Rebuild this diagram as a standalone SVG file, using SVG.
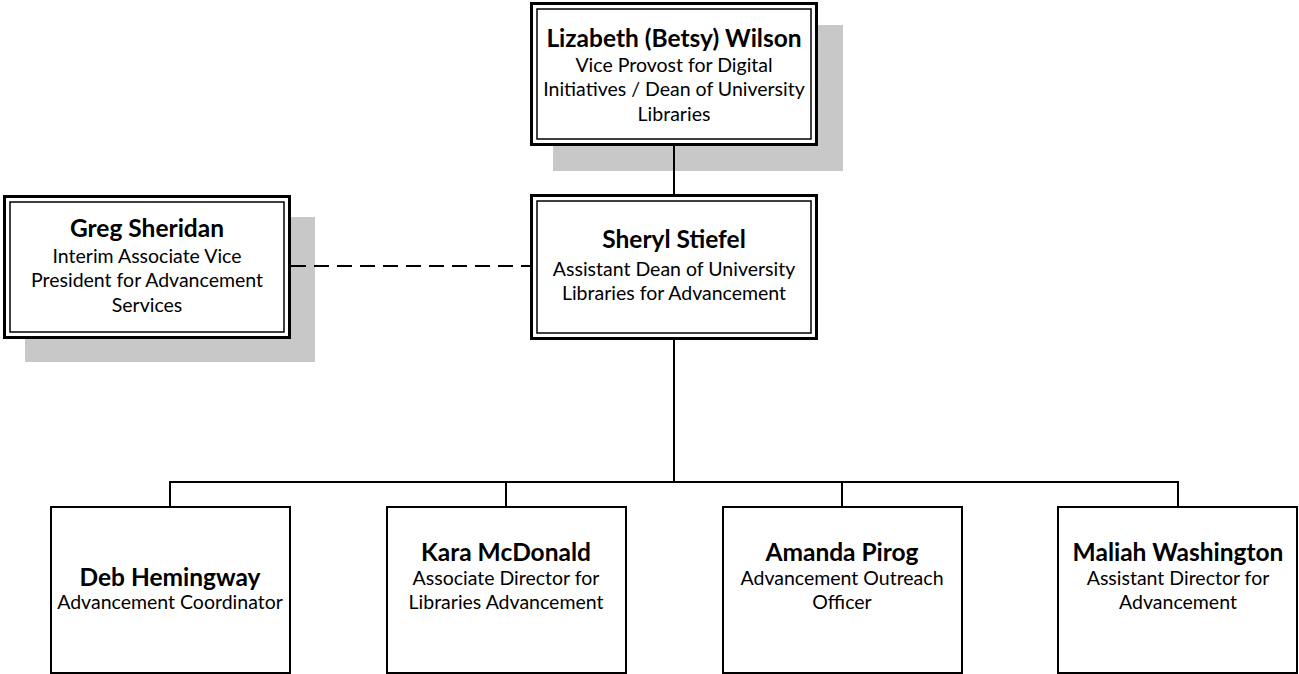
<svg xmlns="http://www.w3.org/2000/svg" width="1299" height="674" viewBox="0 0 1299 674">
<style>
.shadow{fill:#c8c8c8}
.outer{fill:#fff;stroke:#000;stroke-width:3}
.inner{fill:none;stroke:#000;stroke-width:1.5}
.box{fill:#fff;stroke:#000;stroke-width:2}
.name{font-family:Lato,"Liberation Sans",sans-serif;font-weight:bold;font-size:24.5px;text-anchor:middle;fill:#000}
.role{font-family:Lato,"Liberation Sans",sans-serif;font-size:19.5px;text-anchor:middle;fill:#000}
.conn{stroke:#000;stroke-width:2;fill:none}
.dash{stroke:#000;stroke-width:2;fill:none;stroke-dasharray:15 8}
</style>
<rect width="1299" height="674" fill="#fff"/>
<g id="wilson">
<rect class="shadow" x="553" y="25" width="290" height="146"/>
<rect class="outer" x="531.5" y="3.5" width="285" height="141"/>
<rect class="inner" x="537" y="9" width="274" height="130"/>
<text class="name" x="674" y="47">Lizabeth (Betsy) Wilson</text>
<text class="role" x="674" y="72">Vice Provost for Digital</text>
<text class="role" x="674" y="96">Initiatives / Dean of University</text>
<text class="role" x="674" y="121">Libraries</text>
</g>
<g id="sheridan">
<rect class="shadow" x="25" y="217" width="290" height="145"/>
<rect class="outer" x="4.5" y="196.5" width="285" height="141"/>
<rect class="inner" x="10" y="202" width="274" height="130"/>
<text class="name" x="147" y="237">Greg Sheridan</text>
<text class="role" x="147" y="263">Interim Associate Vice</text>
<text class="role" x="147" y="287">President for Advancement</text>
<text class="role" x="147" y="312">Services</text>
</g>
<g id="stiefel">
<rect class="outer" x="531.5" y="195.5" width="285" height="143"/>
<rect class="inner" x="537" y="201" width="274" height="132"/>
<text class="name" x="674" y="248">Sheryl Stiefel</text>
<text class="role" x="674" y="276">Assistant Dean of University</text>
<text class="role" x="674" y="300">Libraries for Advancement</text>
</g>
<g id="hemingway">
<rect class="box" x="51" y="507" width="239" height="166"/>
<text class="name" x="170" y="586">Deb Hemingway</text>
<text class="role" x="170" y="609">Advancement Coordinator</text>
</g>
<g id="mcdonald">
<rect class="box" x="387" y="507" width="239" height="166"/>
<text class="name" x="506" y="561">Kara McDonald</text>
<text class="role" x="506" y="585">Associate Director for</text>
<text class="role" x="506" y="609">Libraries Advancement</text>
</g>
<g id="pirog">
<rect class="box" x="723" y="507" width="239" height="166"/>
<text class="name" x="842" y="561">Amanda Pirog</text>
<text class="role" x="842" y="585">Advancement Outreach</text>
<text class="role" x="842" y="609">Officer</text>
</g>
<g id="washington">
<rect class="box" x="1058" y="507" width="239" height="166"/>
<text class="name" x="1178" y="561">Maliah Washington</text>
<text class="role" x="1178" y="585">Assistant Director for</text>
<text class="role" x="1178" y="609">Advancement</text>
</g>
<g id="connectors">
<line class="conn" x1="674" y1="146" x2="674" y2="194"/>
<line class="dash" x1="291" y1="266" x2="530" y2="266"/>
<line class="conn" x1="674" y1="340" x2="674" y2="482"/>
<polyline class="conn" points="170,506 170,482 1178,482 1178,506"/>
<line class="conn" x1="506" y1="482" x2="506" y2="506"/>
<line class="conn" x1="842" y1="482" x2="842" y2="506"/>
</g>
</svg>
